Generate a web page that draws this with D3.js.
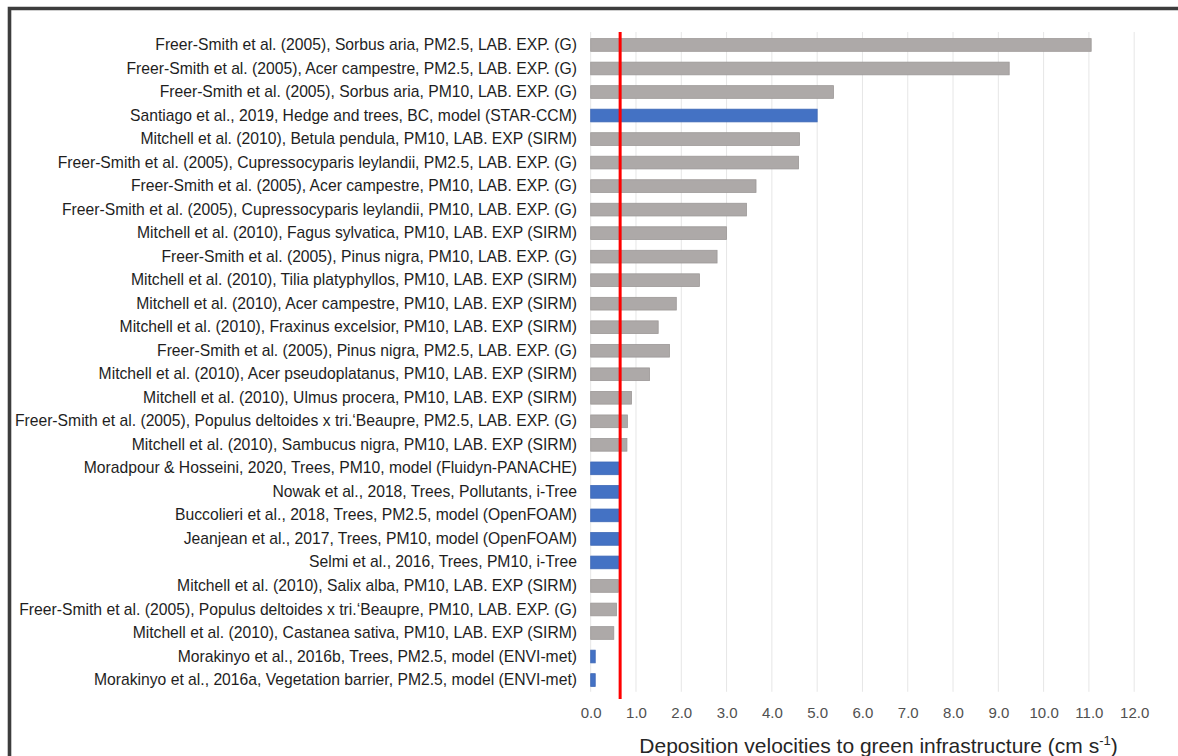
<!DOCTYPE html>
<html>
<head>
<meta charset="utf-8">
<script src="https://cdn.jsdelivr.net/npm/d3@7"></script>
<style>
  html, body { margin: 0; padding: 0; background: #ffffff; }
  svg { display: block; font-family: "Liberation Sans", Arial, Helvetica, sans-serif; }
</style>
</head>
<body>
<svg id="chart" width="1178" height="756"></svg>
<script>
// Studies, top to bottom
const studies = [
  "Freer-Smith et al. (2005), Sorbus aria, PM2.5, LAB. EXP. (G)",
  "Freer-Smith et al. (2005), Acer campestre, PM2.5, LAB. EXP. (G)",
  "Freer-Smith et al. (2005), Sorbus aria, PM10, LAB. EXP. (G)",
  "Santiago et al., 2019, Hedge and trees, BC, model (STAR-CCM)",
  "Mitchell et al. (2010), Betula pendula, PM10, LAB. EXP (SIRM)",
  "Freer-Smith et al. (2005), Cupressocyparis leylandii, PM2.5, LAB. EXP. (G)",
  "Freer-Smith et al. (2005), Acer campestre, PM10, LAB. EXP. (G)",
  "Freer-Smith et al. (2005), Cupressocyparis leylandii, PM10, LAB. EXP. (G)",
  "Mitchell et al. (2010), Fagus sylvatica, PM10, LAB. EXP (SIRM)",
  "Freer-Smith et al. (2005), Pinus nigra, PM10, LAB. EXP. (G)",
  "Mitchell et al. (2010), Tilia platyphyllos, PM10, LAB. EXP (SIRM)",
  "Mitchell et al. (2010), Acer campestre, PM10, LAB. EXP (SIRM)",
  "Mitchell et al. (2010), Fraxinus excelsior, PM10, LAB. EXP (SIRM)",
  "Freer-Smith et al. (2005), Pinus nigra, PM2.5, LAB. EXP. (G)",
  "Mitchell et al. (2010), Acer pseudoplatanus, PM10, LAB. EXP (SIRM)",
  "Mitchell et al. (2010), Ulmus procera, PM10, LAB. EXP (SIRM)",
  "Freer-Smith et al. (2005), Populus deltoides x tri.\u2018Beaupre, PM2.5, LAB. EXP. (G)",
  "Mitchell et al. (2010), Sambucus nigra, PM10, LAB. EXP (SIRM)",
  "Moradpour & Hosseini, 2020, Trees, PM10, model (Fluidyn-PANACHE)",
  "Nowak et al., 2018, Trees, Pollutants, i-Tree",
  "Buccolieri et al., 2018, Trees, PM2.5, model (OpenFOAM)",
  "Jeanjean et al., 2017, Trees, PM10, model (OpenFOAM)",
  "Selmi et al., 2016, Trees, PM10, i-Tree",
  "Mitchell et al. (2010), Salix alba, PM10, LAB. EXP (SIRM)",
  "Freer-Smith et al. (2005), Populus deltoides x tri.\u2018Beaupre, PM10, LAB. EXP. (G)",
  "Mitchell et al. (2010), Castanea sativa, PM10, LAB. EXP (SIRM)",
  "Morakinyo et al., 2016b, Trees, PM2.5, model (ENVI-met)",
  "Morakinyo et al., 2016a, Vegetation barrier, PM2.5, model (ENVI-met)"
];

// Deposition velocity (cm s-1)
const velocities = [
  11.05, 9.24, 5.36, 5.00, 4.61, 4.59, 3.65, 3.44, 3.00, 2.79,
  2.40, 1.89, 1.49, 1.74, 1.30, 0.90, 0.81, 0.80, 0.64, 0.64,
  0.64, 0.64, 0.64, 0.61, 0.57, 0.51, 0.10, 0.10
];

// Study type: "lab" = laboratory experiment, "model" = modelling study
const studyTypes = [
  "lab", "lab", "lab", "model", "lab", "lab", "lab", "lab", "lab", "lab",
  "lab", "lab", "lab", "lab", "lab", "lab", "lab", "lab", "model", "model",
  "model", "model", "model", "lab", "lab", "lab", "model", "model"
];

// Axis ticks
const xTicks = [0, 1, 2, 3, 4, 5, 6, 7, 8, 9, 10, 11, 12];

// Reference velocity marked by the vertical line
const referenceVelocity = [0.65];

const rows = studies.map((s, i) => ({ study: s, value: velocities[i], type: studyTypes[i] }));

const svg = d3.select("#chart");

const plot = { left: 590.7, right: 1134.2, top: 33.2, bottom: 691.8 };

const x = d3.scaleLinear().domain([0, 12]).range([plot.left, plot.right]);
const y = d3.scaleBand()
  .domain(studies)
  .range([plot.top, plot.bottom])
  .paddingInner(0.46)
  .paddingOuter(0.23);

const typeColor = d3.scaleOrdinal().domain(["lab", "model"]).range(["#ADA9A8", "#4472C4"]);
const typeStroke = d3.scaleOrdinal().domain(["lab", "model"]).range(["#9C9897", "#3E68B6"]);

// Vertical gridlines
svg.append("g")
  .selectAll("line")
  .data(xTicks)
  .join("line")
  .attr("x1", d => x(d)).attr("x2", d => x(d))
  .attr("y1", 32).attr("y2", plot.bottom)
  .attr("stroke", "#E6E6E6")
  .attr("stroke-width", 1);

// Bars
svg.append("g")
  .selectAll("rect")
  .data(rows)
  .join("rect")
  .attr("x", x(0))
  .attr("y", d => y(d.study))
  .attr("width", d => x(d.value) - x(0))
  .attr("height", y.bandwidth())
  .attr("fill", d => typeColor(d.type))
  .attr("stroke", d => typeStroke(d.type))
  .attr("stroke-width", 0.8);

// Category labels
const yAxis = d3.axisLeft(y).tickSize(0).tickPadding(0);
const gy = svg.append("g")
  .attr("transform", "translate(577,0)")
  .call(yAxis);
gy.select(".domain").remove();
gy.selectAll("text")
  .attr("font-size", 15.7)
  .attr("font-family", "\"Liberation Sans\", Arial, sans-serif")
  .attr("fill", "#1E1E1E");

// Value axis
const xAxis = d3.axisBottom(x).tickValues(xTicks).tickSize(0).tickPadding(0)
  .tickFormat(d3.format(".1f"));
const gx = svg.append("g")
  .attr("transform", "translate(0,707)")
  .call(xAxis);
gx.select(".domain").remove();
gx.selectAll("text")
  .attr("font-size", 15)
  .attr("font-family", "\"Liberation Sans\", Arial, sans-serif")
  .attr("fill", "#505050");

// Reference line
svg.append("g")
  .selectAll("line")
  .data(referenceVelocity)
  .join("line")
  .attr("x1", d => x(d)).attr("x2", d => x(d))
  .attr("y1", 32).attr("y2", 699)
  .attr("stroke", "#FF0000")
  .attr("stroke-width", 3);

// Axis title
const title = svg.append("text")
  .attr("x", 878.5)
  .attr("y", 753)
  .attr("text-anchor", "middle")
  .attr("font-size", 21)
  .attr("fill", "#262626");
title.append("tspan").text("Deposition velocities to green infrastructure (cm s");
title.append("tspan").attr("dy", -8).attr("font-size", 13).text("-1");
title.append("tspan").attr("dy", 8).text(")");

// Outer frame (top and left edges)
svg.append("path")
  .attr("d", "M9.5,760 L9.5,8.5 L1180,8.5")
  .attr("fill", "none")
  .attr("stroke", "#3D3D3D")
  .attr("stroke-width", 3.6);
</script>
</body>
</html>
